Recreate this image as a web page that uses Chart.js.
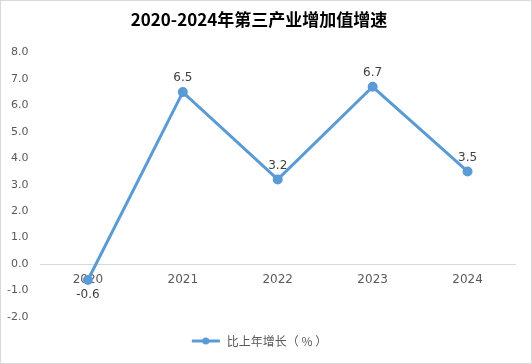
<!DOCTYPE html>
<html>
<head>
<meta charset="utf-8">
<script src="https://cdn.jsdelivr.net/npm/chart.js@4/dist/chart.umd.min.js"></script>
<style>
  html, body { margin: 0; padding: 0; background: #fff; }
  #wrap { width: 530px; height: 362px; border: 1px solid #d9d9d9; position: relative; }
</style>
</head>
<body>
<div id="wrap"><canvas id="growthChart"></canvas></div>
<script>
const years = ['2020', '2021', '2022', '2023', '2024'];
const growth = [-0.6, 6.5, 3.2, 6.7, 3.5];
const seriesName = '比上年增长（ % ）';
const chartTitle = '2020-2024年第三产业增加值增速';

const lineColor = '#5B9BD5';

// small line+dot icon for the legend
function legendIcon() {
    const c = document.createElement('canvas');
    c.width = 30; c.height = 10;
    const g = c.getContext('2d');
    g.strokeStyle = lineColor;
    g.lineWidth = 3;
    g.beginPath(); g.moveTo(1, 5); g.lineTo(29, 5); g.stroke();
    g.fillStyle = lineColor;
    g.beginPath(); g.arc(15, 5, 3.5, 0, Math.PI * 2); g.fill();
    return c;
}

const valueLabels = {
    id: 'valueLabels',
    afterDatasetsDraw(chart) {
        const ctx = chart.ctx;
        const meta = chart.getDatasetMeta(0);
        ctx.save();
        ctx.font = '12px "DejaVu Sans", sans-serif';
        ctx.fillStyle = '#404040';
        ctx.textAlign = 'center';
        ctx.textBaseline = 'middle';
        meta.data.forEach((pt, i) => {
            const v = growth[i];
            const dy = v < 0 ? 15 : -14;
            ctx.fillText(v.toFixed(1), pt.x, pt.y + dy);
        });
        ctx.restore();
    }
};

const ctx = document.getElementById('growthChart').getContext('2d');
new Chart(ctx, {
    type: 'line',
    data: {
        labels: years,
        datasets: [{
            label: seriesName,
            data: growth,
            borderColor: lineColor,
            backgroundColor: lineColor,
            borderWidth: 3,
            pointRadius: 3.5,
            pointHoverRadius: 3.5,
            pointBackgroundColor: lineColor,
            pointBorderColor: lineColor,
            tension: 0,
        }],
    },
    options: {
        responsive: true,
        maintainAspectRatio: false,
        animation: false,
        layout: { padding: { top: 6, left: 2, right: 16, bottom: 6 } },
        plugins: {
            title: {
                display: true,
                text: chartTitle,
                color: '#000',
                font: { size: 17, weight: 'bold', family: '"Noto Sans CJK SC", serif' },
                padding: { top: 2, bottom: 23 },
            },
            legend: {
                position: 'bottom',
                labels: {
                    usePointStyle: true,
                    pointStyleWidth: 30,
                    padding: 18,
                    color: '#595959',
                    font: { size: 12, family: '"Noto Sans CJK SC", sans-serif' },
                    generateLabels: () => [{
                        text: seriesName,
                        pointStyle: legendIcon(),
                        fontColor: '#595959',
                        lineWidth: 0,
                        datasetIndex: 0,
                    }],
                },
            },
            tooltip: { enabled: false },
        },
        scales: {
            x: {
                position: { y: 0 },
                offset: true,
                grid: { display: false },
                border: { display: true, color: '#d9d9d9', width: 1 },
                ticks: {
                    color: '#595959',
                    font: { size: 12, family: '"DejaVu Sans", sans-serif' },
                    padding: 1,
                },
            },
            y: {
                min: -2,
                max: 8,
                grid: { display: false },
                border: { display: false },
                ticks: {
                    stepSize: 1,
                    color: '#595959',
                    font: { size: 11, family: '"DejaVu Sans", sans-serif' },
                    callback: v => v.toFixed(1),
                    padding: 4,
                },
            },
        },
    },
    plugins: [valueLabels],
});
</script>
</body>
</html>
